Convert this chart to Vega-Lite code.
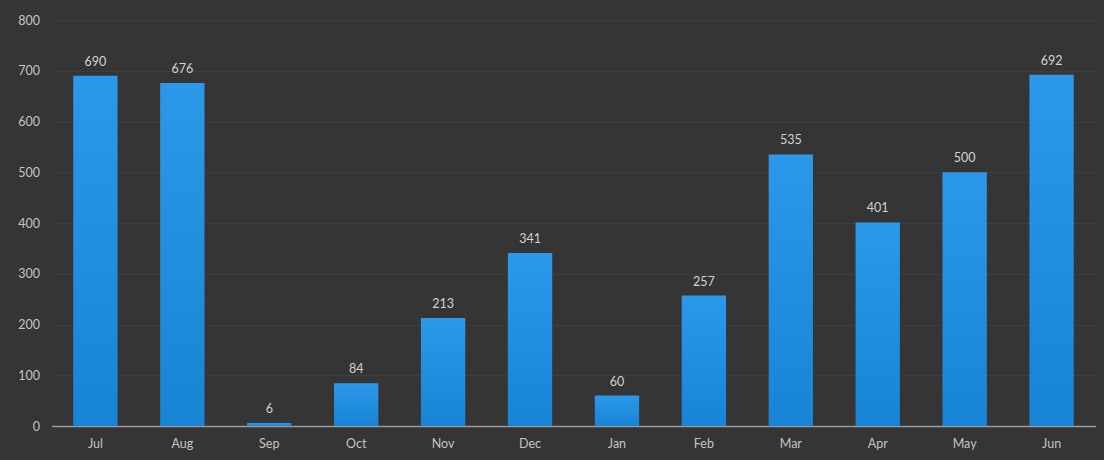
{
  "$schema": "https://vega.github.io/schema/vega-lite/v6.json",
  "width": 1044,
  "height": 406,
  "autosize": {"type": "none"},
  "padding": {"left": 51.5, "top": 20, "right": 8.5, "bottom": 34},
  "background": "#353535",
  "config": {
    "view": {"stroke": null},
    "font": "Lato"
  },
  "data": {
    "values": [
      {"month": "Jul", "value": 690},
      {"month": "Aug", "value": 676},
      {"month": "Sep", "value": 6},
      {"month": "Oct", "value": 84},
      {"month": "Nov", "value": 213},
      {"month": "Dec", "value": 341},
      {"month": "Jan", "value": 60},
      {"month": "Feb", "value": 257},
      {"month": "Mar", "value": 535},
      {"month": "Apr", "value": 401},
      {"month": "May", "value": 500},
      {"month": "Jun", "value": 692}
    ]
  },
  "encoding": {
    "x": {
      "field": "month",
      "type": "nominal",
      "sort": null,
      "scale": {"paddingInner": 0.49, "paddingOuter": 0.25},
      "axis": {
        "title": null,
        "labelAngle": 0,
        "labelColor": "#c4c4c4",
        "labelFontSize": 12.5,
        "labelPadding": 11,
        "ticks": false,
        "domainColor": "#9a9a9a",
        "domainWidth": 1.5,
        "grid": false
      }
    },
    "y": {
      "field": "value",
      "type": "quantitative",
      "scale": {"domain": [0, 800], "nice": false},
      "axis": {
        "title": null,
        "values": [0, 100, 200, 300, 400, 500, 600, 700, 800],
        "labelColor": "#c4c4c4",
        "labelFontSize": 12.5,
        "labelPadding": 12,
        "ticks": false,
        "domain": false,
        "gridColor": "#3f3f3f",
        "gridWidth": 1
      }
    }
  },
  "layer": [
    {
      "mark": {
        "type": "bar",
        "color": {
          "gradient": "linear",
          "x1": 0, "y1": 0, "x2": 0, "y2": 1,
          "stops": [
            {"offset": 0, "color": "#2b98ea"},
            {"offset": 1, "color": "#1784d6"}
          ]
        }
      }
    },
    {
      "mark": {"type": "text", "dy": -7, "color": "#d2d2d2", "fontSize": 12.5, "baseline": "bottom"},
      "encoding": {"text": {"field": "value", "type": "quantitative"}}
    }
  ]
}
